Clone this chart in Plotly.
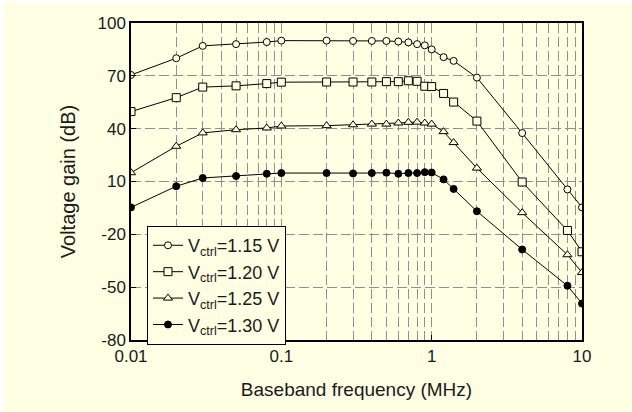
import plotly.graph_objects as go

freq = [0.01, 0.02, 0.03, 0.05, 0.08, 0.1, 0.2, 0.3, 0.4, 0.5, 0.6, 0.7, 0.8, 0.9, 1.0, 1.2, 1.4, 2, 4, 8, 10]
gain_115 = [70.5, 80, 87, 88, 89.2, 90, 90, 89.8, 89.8, 89.8, 89.5, 89, 88, 87.3, 85, 80.6, 78.5, 69, 37.5, 5.5, -4.7]
gain_120 = [49.7, 57.6, 63.6, 64.3, 65.6, 66.4, 66.5, 66.5, 66.5, 66.7, 66.7, 67.2, 66.9, 64.1, 63.9, 60, 55.1, 44.3, 9.7, -17.8, -29.9]
gain_125 = [15, 30, 37.6, 39.4, 40.4, 41.5, 41.7, 42.2, 42.6, 42.6, 43.2, 43.6, 43.7, 43.2, 42.6, 38.3, 32.1, 17.6, -7.7, -31.6, -41.7]
gain_130 = [-4.7, 7.3, 12, 13.1, 14.4, 14.8, 14.8, 14.6, 14.8, 15, 14.4, 14.8, 14.8, 15.3, 15.1, 11.2, 5.8, -6.9, -28.6, -49.2, -59.3]

series_names = ["V<sub>ctrl</sub>=1.15 V", "V<sub>ctrl</sub>=1.20 V",
                "V<sub>ctrl</sub>=1.25 V", "V<sub>ctrl</sub>=1.30 V"]
x_tickvals = [0.01, 0.1, 1, 10]
x_ticktext = ["0.01", "0.1", "1", "10"]
x_minor = [m * d for d in (0.01, 0.1, 1) for m in range(2, 10)]
y_tickvals = [-80, -50, -20, 10, 40, 70, 100]
y_ticktext = ["-80", "-50", "-20", "10", "40", "70", "100"]

BG = "#FFFFE4"
FONT = "Liberation Sans, Arial, sans-serif"
TXT = "#1a1a1a"

fig = go.Figure()
styles = [("circle", 7, BG), ("square", 8, BG), ("triangle-up", 8, BG), ("circle", 7, "black")]
for name, ys, (sym, sz, fill) in zip(series_names, [gain_115, gain_120, gain_125, gain_130], styles):
    fig.add_trace(go.Scatter(
        x=freq, y=ys, name=name, mode="lines+markers",
        line=dict(color="black", width=1),
        marker=dict(symbol=sym, size=sz, color=fill,
                    line=dict(color="black", width=1)),
    ))

grid = dict(showgrid=True, gridcolor="#8f8f8f", gridwidth=1.2, griddash="10px,4px")
fig.update_xaxes(
    type="log", range=[-2, 1], tickvals=x_tickvals, ticktext=x_ticktext,
    ticks="inside", ticklen=5, tickcolor="black",
    showline=True, linecolor="black", linewidth=1.5, mirror=True,
    minor=dict(tickvals=x_minor, showgrid=True, gridcolor="#8f8f8f", gridwidth=1.2,
               griddash="10px,4px", ticks=""),
    title=dict(text="Baseband frequency (MHz)", font=dict(size=19, color=TXT), standoff=18),
    tickfont=dict(size=17, color=TXT),
    zeroline=False, **grid,
)
fig.update_yaxes(
    range=[-80, 100], tickvals=y_tickvals, ticktext=y_ticktext,
    ticks="inside", ticklen=5, tickcolor="black",
    showline=True, linecolor="black", linewidth=1.5, mirror=True,
    title=dict(text="Voltage gain (dB)", font=dict(size=20, color=TXT), standoff=16),
    tickfont=dict(size=17, color=TXT),
    zeroline=False, **grid,
)

fig.add_shape(type="rect", xref="paper", yref="paper", layer="below",
              x0=(4 - 131) / 451, x1=(640 - 131) / 451,
              y0=(340 - 420) / 317, y1=(340 - 3) / 317,
              fillcolor=BG, line=dict(width=0))

fig.update_layout(
    width=632, height=412,
    margin=dict(l=131, r=50, t=23, b=72),
    paper_bgcolor="white", plot_bgcolor=BG,
    font=dict(family=FONT, color=TXT),
    showlegend=True,
    legend=dict(x=0.035, y=0.36, xanchor="left", yanchor="top",
                bgcolor=BG, bordercolor="black", borderwidth=1.2,
                font=dict(size=18, color=TXT), tracegroupgap=0,
                itemwidth=30),
)

fig.write_html("out.html")
